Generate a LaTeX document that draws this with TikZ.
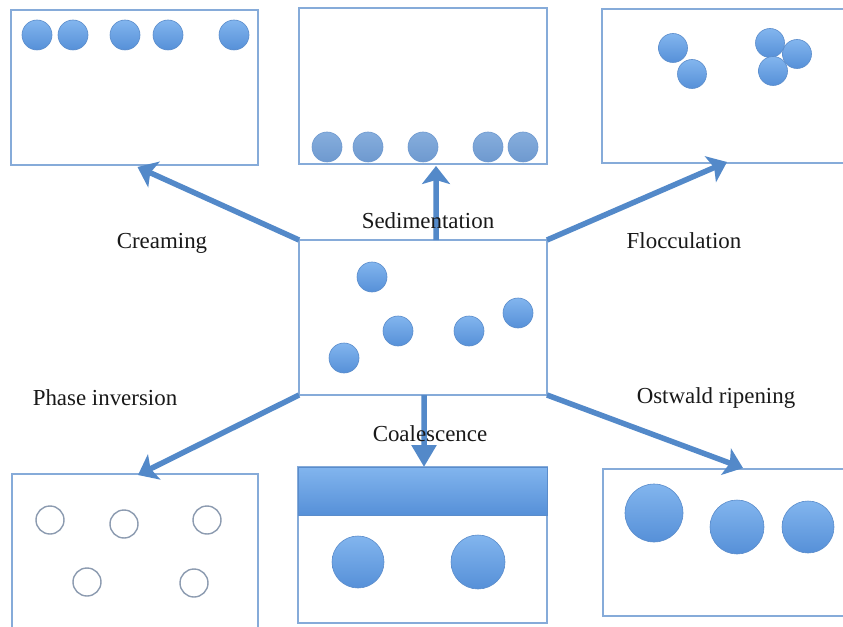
\documentclass[tikz,border=0pt]{standalone}
\usepackage{fontspec}
\setmainfont{Liberation Serif}
\usetikzlibrary{arrows.meta,calc}
\definecolor{boxline}{HTML}{86ABD9}
\definecolor{arrowblue}{HTML}{5389C9}
\definecolor{ballA}{HTML}{82B5EE}
\definecolor{ballB}{HTML}{5690D8}
\definecolor{ballE}{HTML}{5A8CCB}
\definecolor{sedA}{HTML}{86AEDD}
\definecolor{sedB}{HTML}{6E99CF}
\definecolor{hollow}{HTML}{8C9BB0}
\tikzset{
  box/.style={draw=boxline, line width=1.3bp, fill=white, rectangle, anchor=north west, inner sep=0pt, outer sep=0pt},
  ball/.style={draw=ballE, line width=0.6bp, top color=ballA, bottom color=ballB},
  sedball/.style={draw=sedB, line width=0.6bp, top color=sedA, bottom color=sedB},
  ring/.style={draw=hollow, line width=1.4bp, fill=white},
  flow/.style={draw=arrowblue, line width=5.5bp, -{Stealth[length=18bp,width=28bp,inset=4bp]}},
  flowtri/.style={draw=arrowblue, line width=5.5bp, -{Triangle[length=22bp,width=24bp]}},
  lab/.style={font=\fontsize{23}{27}\selectfont, text=black!90, inner sep=0pt}
}
\begin{document}
\begin{tikzpicture}[x=1bp,y=-1bp]
\useasboundingbox (0,0) rectangle (843,627);
\clip (0,0) rectangle (843,627);
\fill[white] (0,0) rectangle (843,627);
% boxes
\node[box, minimum width=247bp, minimum height=155bp] (cream) at (11,10) {};
\node[box, minimum width=248bp, minimum height=156bp] (sedi) at (299,8) {};
\node[box, minimum width=250bp, minimum height=154bp] (floc) at (602,9) {};
\node[box, minimum width=248bp, minimum height=155bp] (emul) at (299,240) {};
\node[box, minimum width=246bp, minimum height=170bp] (phase) at (12,474) {};
\node[box, minimum width=249bp, minimum height=156bp] (coal) at (298,467) {};
\node[box, minimum width=250bp, minimum height=147bp] (ostw) at (603,469) {};
% creaming droplets
\foreach \x in {37,73,125,168,234} \path[ball] (\x,35) circle (15);
% sedimentation droplets
\foreach \x in {327,368,423,488,523} \path[sedball] (\x,147) circle (15);
% flocculation
\path[ball] (673,48) circle (14.5);
\path[ball] (692,74) circle (14.5);
\path[ball] (797,54) circle (14.5);
\path[ball] (770,43) circle (14.5);
\path[ball] (773,71) circle (14.5);
% initial emulsion
\path[ball] (372,277) circle (15);
\path[ball] (398,331) circle (15);
\path[ball] (469,331) circle (15);
\path[ball] (518,313) circle (15);
\path[ball] (344,358) circle (15);
% phase inversion
\foreach \p in {(50,520),(124,524),(207,520),(87,582),(194,583)} \path[ring] \p circle (14);
% coalescence
\path[draw=ballE, line width=0.6bp, top color=ballA, bottom color=ballB] (coal.north west) rectangle ($(coal.north east)+(0,48)$);
\path[ball] (358,562) circle (26);
\path[ball] (478,562) circle (27);
% ostwald
\path[ball] (654,513) circle (29);
\path[ball] (737,527) circle (27);
\path[ball] (808,527) circle (26);
% arrows
\coordinate (tc) at (436,240);
\coordinate (bc) at (424,395);
\draw[flow] (emul.north west) -- ($(cream.south)+(3,2)$);
\draw[flow] (tc) -- ($(sedi.south)+(13,2)$);
\draw[flow] (emul.north east) -- (727,162);
\draw[flow] (emul.south west) -- ($(phase.north)+(3,1)$);
\draw[flowtri] (bc) -- ($(coal.north)+(1.5,0)$);
\draw[flow] (emul.south east) -- (743,468);
% labels
\node[lab] (lcream) at (162,243) {Creaming};
\node[lab] (lsedi) at (428,221) {Sedimentation};
\node[lab] (lfloc) at (684,241) {Flocculation};
\node[lab] (lphase) at (105,398) {Phase inversion};
\node[lab] (lcoal) at (430,434) {Coalescence};
\node[lab] (lostw) at (716,398) {Ostwald ripening};
\end{tikzpicture}
\end{document}
